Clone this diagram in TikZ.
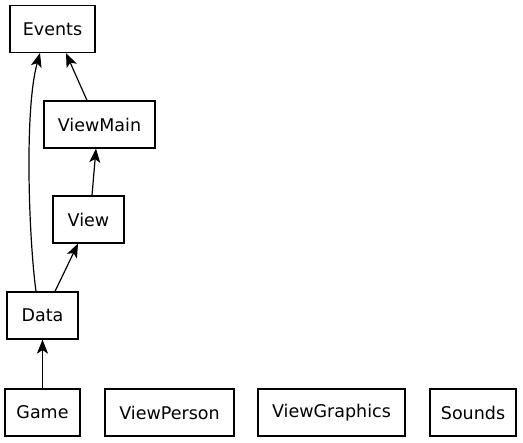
\documentclass[tikz,border=0pt]{standalone}
\usepackage{fontspec}
\setmainfont{DejaVu Sans}
\usetikzlibrary{arrows.meta}

\begin{document}
\begin{tikzpicture}[x=1pt, y=-1pt, line width=1.2pt,
  box/.style={draw, minimum height=47pt, inner sep=0pt, font=\fontsize{17.5}{19}\selectfont},
  dep/.style={-{Stealth[length=14pt, width=11pt, inset=3.5pt]}}]
  \useasboundingbox (0,0) rectangle (523,443);
  \node[box, minimum width=85pt]  (events)   at (52.5,29)   {Events};
  \node[box, minimum width=111pt] (viewmain) at (99.5,124.5) {ViewMain};
  \node[box, minimum width=71pt]  (view)     at (88.5,219.5) {View};
  \node[box, minimum width=71pt]  (data)     at (42.5,315.5) {Data};
  \node[box, minimum width=75pt]  (game)     at (42.5,412.5) {Game};
  \node[box, minimum width=129pt] (person)   at (169.5,412.5) {ViewPerson};
  \node[box, minimum width=147pt] (graphics) at (331.5,412.5) {ViewGraphics};
  \node[box, minimum width=86pt]  (sounds)   at (473,412.5) {Sounds};
  \draw[dep] ([xshift=-6.5pt]data.north) .. controls (29,240) and (24,110) .. ([xshift=-12.5pt]events.south);
  \draw[dep] ([xshift=-12.5pt]viewmain.north) -- ([xshift=13.5pt]events.south);
  \draw[dep] ([xshift=3.5pt]view.north) -- ([xshift=-3.5pt]viewmain.south);
  \draw[dep] ([xshift=12.5pt]data.north) -- ([xshift=-10.5pt]view.south);
  \draw[dep] (game) -- (data);
\end{tikzpicture}
\end{document}
